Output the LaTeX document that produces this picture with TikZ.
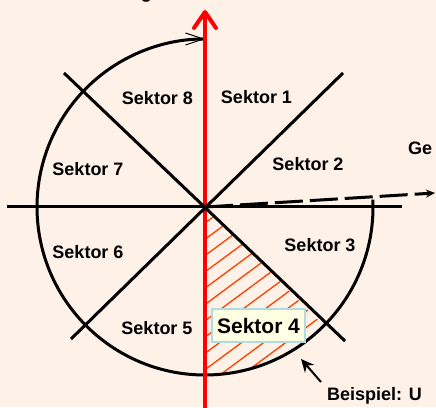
\documentclass[tikz,border=0pt]{standalone}
\usepackage{fontspec}
\setmainfont{Liberation Sans}
\usetikzlibrary{arrows.meta}
\definecolor{bg}{RGB}{254,241,232}
\definecolor{hatchred}{RGB}{255,64,0}
\definecolor{boxfill}{RGB}{255,255,228}
\definecolor{boxline}{RGB}{176,220,224}
\begin{document}
\begin{tikzpicture}[x=1pt,y=1pt,
  lbl/.style={font=\fontsize{18}{20}\selectfont\bfseries, inner sep=0pt},
  hatchline/.style={draw=hatchred, line width=1.3pt},
  blackline/.style={draw=black, line width=3pt},
  redaxis/.style={draw=red, line width=4pt, -{Straight Barb[length=16pt,width=22pt,round]}},
  circline/.style={draw=black, line width=3pt, -{Straight Barb[length=18pt,width=12pt,line width=1pt]}},
  dashline/.style={draw=black, line width=3pt, dash pattern=on 28pt off 7pt, -{Stealth[length=9pt,width=8pt]}},
  pointer/.style={draw=black, line width=2pt, -{Stealth[length=13pt,width=12pt]}},
  sektorbox/.style={font=\fontsize{21}{24}\selectfont\bfseries, fill=boxfill, draw=boxline, line width=1.5pt, minimum width=93pt, minimum height=33pt, inner sep=0pt}]
\fill[bg] (0,0) rectangle (436,407);
\useasboundingbox (0,0) rectangle (436,407);
\coordinate (C) at (205,200);
% hatching of Sektor 4
\begin{scope}
\clip (C) -- ++(-90:168) arc[start angle=-90,end angle=-45,radius=168] -- cycle;
\foreach \k in {0,...,16} {
  \draw[hatchline] (205,{184-16.3*\k}) -- (345,{184-16.3*\k+0.74*140});
}
\end{scope}
% circle arc with arrow
\coordinate (arcS) at ([shift={(2.5:168)}]C);
\draw[circline] (arcS) arc[start angle=2.5,end angle=-270,radius=168];
% red axis
\coordinate (axB) at (205,-2);
\coordinate (axT) at (205,397);
\draw[redaxis] (axB) -- (axT);
% horizontal and diagonals
\coordinate (H1) at (7,200);
\coordinate (H2) at (402,200);
\coordinate (A1) at (64,334);
\coordinate (A2) at (345,66);
\coordinate (B1) at (343,334);
\coordinate (B2) at (71,68);
\draw[blackline] (H1) -- (H2);
\draw[blackline] (A1) -- (A2);
\draw[blackline] (B1) -- (B2);
% dashed arrow
\coordinate (D) at (435,214);
\draw[dashline] (C) -- (D);
% labels
\node[lbl] (s8) at (157.5,309) {Sektor 8};
\node[lbl] (s1) at (256.5,310) {Sektor 1};
\node[lbl] (s7) at (88,238) {Sektor 7};
\node[lbl] (s2) at (308,243) {Sektor 2};
\node[lbl] (s6) at (88,155) {Sektor 6};
\node[lbl] (s3) at (320,162) {Sektor 3};
\node[lbl] (s5) at (157,79) {Sektor 5};
\node[sektorbox] (s4) at (258.5,81.5) {Sektor 4};
% side texts
\node[lbl, anchor=base west] (ge) at (408,252) {Ge};
\node[lbl, anchor=base west] (bsp) at (327,7) {Beispiel: U};
\node[lbl, anchor=base east] (topg) at (152,408) {g};
% pointer arrow
\coordinate (pT) at (321,25);
\coordinate (pH) at (301,48);
\draw[pointer] (pT) -- (pH);
\end{tikzpicture}
\end{document}
